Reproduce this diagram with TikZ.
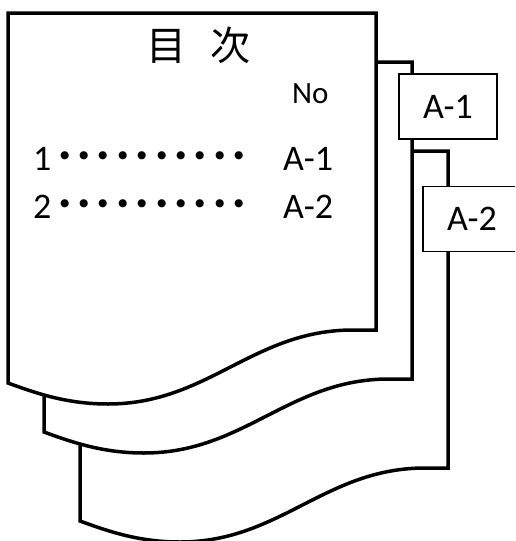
\documentclass[tikz,border=0pt]{standalone}
\usepackage{fontspec}
\setmainfont{Carlito}
\newfontfamily\jpfont{Noto Sans CJK JP}

\tikzset{
  pageline/.style={line width=3.5pt, fill=white},
  tabbox/.style={draw, line width=1.3pt, fill=white, minimum width=98pt,
    minimum height=65pt, inner sep=0pt, font=\fontsize{36}{40}\selectfont},
  entry/.style={inner sep=0pt, anchor=base west, font=\fontsize{36}{40}\selectfont},
  leader/.style={inner sep=0pt, anchor=base, font=\jpfont\bfseries\fontsize{38.8}{40}\selectfont}
}

% one sheet, given by its top left corner
\newcommand\docpage[2]{%
  \begin{scope}[shift={(#1,#2)}]
    \draw[pageline] (0,0) -- (368,0) -- (368,317) -- (345,317)
      .. controls (245,317) and (200,391) .. (100,391)
      .. controls (60,391) and (30,381) .. (0,370) -- cycle;
  \end{scope}}

\begin{document}
\begin{tikzpicture}[x=1pt, y=-1pt]
    \useasboundingbox (0,0) rectangle (515,541);
    \clip (0,0) rectangle (515,541);

    % Sheets, back to front
    \docpage{80}{151}
    \docpage{44}{62}
    \docpage{8}{13}

    % Tabs
    \node[tabbox] (tab1) at (448,106.5) {A-1};
    \node[tabbox] (tab2) at (472,219) {A-2};

    % Contents
    \node[inner sep=0pt, font=\jpfont\fontsize{40}{42}\selectfont] (title) at (198,45) {目\hspace{24pt}次};
    \node[entry, font=\fontsize{31}{34}\selectfont] (no) at (292,103) {No};
    \node[entry] (num1) at (33,170) {1};
    \node[leader] (dots1) at (152,170) {･･････････};
    \node[entry] (ref1) at (283,170) {A-1};
    \node[entry] (num2) at (33,218) {2};
    \node[leader] (dots2) at (152,218) {･･････････};
    \node[entry] (ref2) at (283,218) {A-2};
\end{tikzpicture}
\end{document}
